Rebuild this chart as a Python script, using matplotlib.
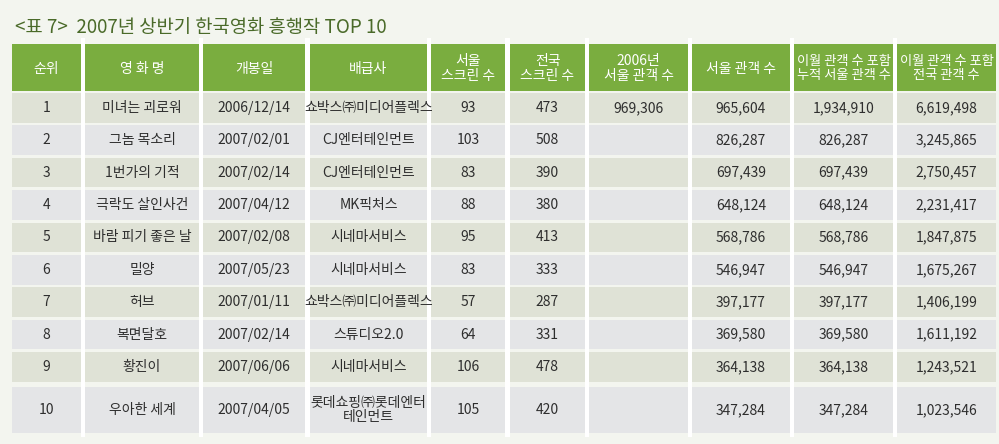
import matplotlib
matplotlib.use("Agg")
from matplotlib import pyplot as plt
from matplotlib.patches import Rectangle

plt.rcParams["font.family"] = ["Noto Sans CJK KR", "DejaVu Sans"]

# data
title = "<표 7>  2007년 상반기 한국영화 흥행작 TOP 10"
headers = ["순위", "영 화 명", "개봉일", "배급사", "서울\n스크린 수", "전국\n스크린 수",
           "2006년\n서울 관객 수", "서울 관객 수", "이월 관객 수 포함\n누적 서울 관객 수",
           "이월 관객 수 포함\n전국 관객 수"]
ranks = [1, 2, 3, 4, 5, 6, 7, 8, 9, 10]
titles = ["미녀는 괴로워", "그놈 목소리", "1번가의 기적", "극락도 살인사건", "바람 피기 좋은 날",
          "밀양", "허브", "복면달호", "황진이", "우아한 세계"]
dates = ["2006/12/14", "2007/02/01", "2007/02/14", "2007/04/12", "2007/02/08",
         "2007/05/23", "2007/01/11", "2007/02/14", "2007/06/06", "2007/04/05"]
distributors = ["쇼박스㈜미디어플렉스", "CJ엔터테인먼트", "CJ엔터테인먼트", "MK픽처스", "시네마서비스",
                "시네마서비스", "쇼박스㈜미디어플렉스", "스튜디오2.0", "시네마서비스",
                "롯데쇼핑㈜롯데엔터\n테인먼트"]
seoul_screens = [93, 103, 83, 88, 95, 83, 57, 64, 106, 105]
national_screens = [473, 508, 390, 380, 413, 333, 287, 331, 478, 420]
seoul_2006 = [969306, None, None, None, None, None, None, None, None, None]
seoul_audience = [965604, 826287, 697439, 648124, 568786, 546947, 397177, 369580, 364138, 347284]
cum_seoul = [1934910, 826287, 697439, 648124, 568786, 546947, 397177, 369580, 364138, 347284]
national_total = [6619498, 3245865, 2750457, 2231417, 1847875, 1675267, 1406199, 1611192,
                  1243521, 1023546]

# layout (pixels)
col_edges = [(12, 81), (85, 199), (203, 305), (310, 427), (431, 505), (510, 585),
             (589, 688), (692, 790), (794, 893), (897, 996)]
head_sizes = [10, 10, 10, 10, 10, 10, 10, 10, 9.5, 9.5]
head_top, head_bot = 44, 91
row_tops = [93 + i * 32.4 for i in range(9)] + [387]
row_hts = [29.7] * 9 + [46]

BG = "#f3f5ef"
GREEN = "#7aad3f"
ODD = "#dfe2d6"
EVEN = "#e4e5e7"
TXT = "#2e2e2e"


def fmt(v):
    return "" if v is None else f"{v:,}"


fig = plt.figure(figsize=(9.99, 4.44), dpi=100, facecolor=BG)
ax = fig.add_axes([0, 0, 1, 1])
ax.set_xlim(0, 999)
ax.set_ylim(444, 0)
ax.axis("off")

ax.text(15, 27, title, fontsize=13.5, color="#4a6a29", ha="left", va="center")

# header
for (x0, x1), h, fs in zip(col_edges, headers, head_sizes):
    ax.add_patch(Rectangle((x0, head_top), x1 - x0, head_bot - head_top, color=GREEN, lw=0))
    ax.text((x0 + x1) / 2, (head_top + head_bot) / 2 + 1, h, color="white", fontsize=fs,
            ha="center", va="center", linespacing=1.05)

# body
for i in range(len(ranks)):
    top, ht = row_tops[i], row_hts[i]
    fill = ODD if i % 2 == 0 else EVEN
    cells = [str(ranks[i]), titles[i], dates[i], distributors[i], str(seoul_screens[i]),
             str(national_screens[i]), fmt(seoul_2006[i]), fmt(seoul_audience[i]),
             fmt(cum_seoul[i]), fmt(national_total[i])]
    for (x0, x1), c in zip(col_edges, cells):
        ax.add_patch(Rectangle((x0, top), x1 - x0, ht, color=fill, lw=0))
        ax.text((x0 + x1) / 2, top + ht / 2, c, color=TXT, fontsize=10,
                ha="center", va="center", linespacing=0.95)

# white column separators
for (a0, a1), (b0, b1) in zip(col_edges[:-1], col_edges[1:]):
    ax.add_patch(Rectangle((a1, head_top - 6), b0 - a1, 437 - head_top + 6, color="white", lw=0))

fig.savefig("out.png", dpi=100, facecolor=BG)
